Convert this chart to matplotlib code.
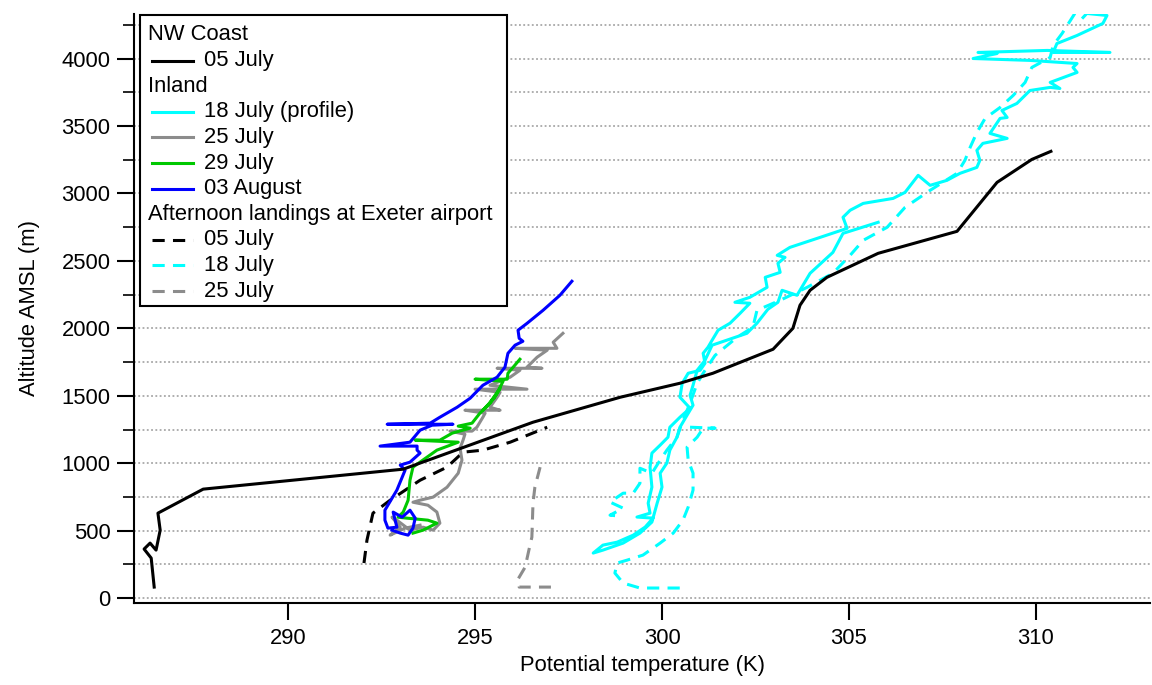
import numpy as np
import matplotlib
matplotlib.use("Agg")
import matplotlib.pyplot as plt
from matplotlib.lines import Line2D
from matplotlib.patches import Rectangle
from matplotlib.ticker import MultipleLocator

plt.rcParams['font.family'] = ['Liberation Sans', 'DejaVu Sans']

# ---------------- data (potential temperature K, altitude m) ----------------
nw_0507_theta = [286.42, 286.34, 286.15, 286.31, 286.47, 286.58, 286.52, 287.73, 293.08,
                 296.55, 298.88, 300.48, 301.36, 302.97, 303.50, 303.69, 303.96, 304.41,
                 305.78, 307.89, 308.96, 309.89, 310.40]
nw_0507_alt = [82, 297, 364, 408, 356, 504, 630, 808, 956,
               1304, 1489, 1593, 1667, 1845, 2000, 2171, 2282, 2378,
               2556, 2719, 3082, 3252, 3312]

in_1807_theta = [305.78, 304.84, 304.57, 303.96, 303.61, 303.21, 303.10, 302.83, 302.54, 302.27,
                 301.34, 301.15, 300.94, 300.83, 300.75, 300.83, 300.67, 300.48, 300.40, 300.21,
                 300.13, 299.95, 300.00, 299.87, 299.73, 299.41, 298.96, 298.42, 298.16,
                 298.42, 298.80, 299.23, 299.55, 299.76, 299.33, 299.68, 299.63, 299.73, 299.68,
                 299.73, 299.95, 300.16, 300.21, 300.48, 300.75, 300.48, 300.54, 300.70, 301.02,
                 301.15, 301.10, 301.23, 301.34, 301.50, 301.82, 302.09, 302.35, 301.95, 302.35,
                 302.81, 302.76, 303.16, 303.10, 303.29, 303.08, 303.42, 304.15, 304.95, 304.84,
                 305.03, 305.38, 306.18, 306.50, 306.85, 307.17, 307.62, 307.97, 308.42, 308.50,
                 308.42, 308.58, 309.23, 308.77, 309.04, 309.23, 309.09, 309.49, 309.84, 310.38,
                 310.64, 310.38, 311.10, 310.99, 311.10, 309.84, 308.32, 308.96, 308.45, 310.30,
                 311.98, 310.46, 310.56, 311.10, 311.79, 311.90, 311.36, 311.26]
in_1807_alt = [2786, 2704, 2563, 2408, 2245, 2282, 2193, 2141, 2038, 1963,
               1875, 1763, 1689, 1578, 1504, 1430, 1356, 1267, 1193, 1097,
               1001, 926, 823, 704, 564, 482, 408, 356, 334,
               393, 415, 467, 527, 593, 601, 630, 704, 823, 971,
               1075, 1134, 1193, 1267, 1341, 1408, 1489, 1593, 1667, 1689,
               1741, 1815, 1860, 1912, 1986, 2038, 2112, 2186, 2193, 2230,
               2304, 2378, 2415, 2482, 2526, 2541, 2600, 2667, 2741, 2823,
               2875, 2926, 2963, 3008, 3134, 3060, 3097, 3149, 3193, 3245,
               3319, 3371, 3408, 3445, 3556, 3563, 3615, 3667, 3763, 3786,
               3778, 3823, 3897, 3934, 3963, 3986, 4000, 4037, 4045, 4060,
               4045, 4045, 4111, 4171, 4260, 4319, 4334, 4304]

in_2507_theta = [297.35, 297.09, 297.19, 296.07, 296.93, 296.66, 296.39, 296.79, 295.59, 296.20,
                 295.94, 295.40, 296.39, 295.00, 295.67, 295.59, 295.40, 295.67, 294.73, 295.27,
                 295.21, 295.05, 294.92, 294.33, 294.73, 294.68, 294.60, 294.65, 294.55, 294.25,
                 293.88, 293.53, 293.34, 293.74, 293.98, 294.06, 293.88, 293.61, 293.26, 292.91,
                 292.78, 293.00, 292.73, 293.13, 293.53]
in_2507_alt = [1963, 1897, 1852, 1852, 1838, 1786, 1712, 1704, 1704, 1689,
               1638, 1578, 1549, 1549, 1526, 1489, 1415, 1393, 1393, 1371,
               1341, 1267, 1238, 1238, 1215, 1171, 1112, 1023, 926, 822,
               749, 726, 711, 689, 638, 556, 504, 526, 504, 578,
               600, 526, 467, 519, 541]

in_2907_theta = [296.20, 296.02, 295.88, 295.86, 295.00, 295.75, 295.59, 295.40, 295.21, 295.51,
                 295.67, 295.35, 295.13, 294.92, 294.55, 294.87, 294.39, 294.06, 293.40, 294.55,
                 293.98, 293.34, 293.26, 293.21, 293.08, 292.94, 293.18, 293.74, 293.98, 293.61,
                 293.34]
in_2907_alt = [1771, 1712, 1667, 1623, 1623, 1608, 1519, 1445, 1393, 1482,
               1556, 1430, 1371, 1297, 1275, 1260, 1223, 1171, 1171, 1156,
               1097, 971, 874, 726, 638, 600, 593, 578, 556, 504,
               482]

in_0308_theta = [297.59, 297.27, 296.82, 296.39, 296.15, 296.18, 296.28, 296.07, 295.88, 295.80,
                 295.59, 295.21, 294.87, 294.52, 294.06, 293.80, 292.65, 294.41, 293.85, 293.53,
                 293.26, 292.46, 293.45, 293.45, 293.53, 293.26, 293.00, 293.13, 292.91, 292.59,
                 292.59, 292.67, 292.91, 292.81, 293.05, 293.26, 293.40, 293.34, 293.21, 293.00,
                 292.78]
in_0308_alt = [2349, 2245, 2134, 2037, 1986, 1926, 1904, 1875, 1815, 1712,
               1638, 1578, 1482, 1415, 1341, 1297, 1289, 1289, 1282, 1245,
               1156, 1127, 1127, 1097, 1075, 1008, 986, 949, 801, 652,
               578, 519, 526, 638, 600, 652, 593, 519, 467, 482,
               504]

ex_0507_theta = [292.03, 292.11, 292.27, 292.73, 293.53, 294.25, 294.68, 295.21, 295.94, 296.93]
ex_0507_alt = [260, 430, 630, 726, 874, 971, 1082, 1097, 1156, 1267]

ex_1807_theta = [311.04, 310.70, 310.46, 310.38, 309.89, 309.71, 309.39, 309.04, 308.64, 308.42,
                 308.24, 308.10, 307.89, 307.17, 306.50, 306.02, 305.38, 305.03, 304.57, 303.88,
                 303.16, 302.54, 302.43, 302.01, 301.42, 301.15, 300.94, 300.75, 300.56, 300.40,
                 300.13, 299.95, 299.73, 299.41, 299.41, 299.23, 298.96, 298.61, 298.96, 298.61,
                 298.88, np.nan,
                 300.75, 301.42, 301.10, 300.94, 300.67, 300.70, 300.83, 300.83, 300.70, 300.56,
                 300.30, 299.95, 299.49, 299.07, 298.80, 298.74, 298.96, 299.41, 300.62]
ex_1807_alt = [4334, 4186, 4097, 4008, 3934, 3823, 3726, 3637, 3556, 3452,
               3341, 3245, 3149, 3023, 2897, 2749, 2652, 2541, 2408, 2304,
               2208, 2134, 2008, 1934, 1800, 1689, 1593, 1445, 1319, 1193,
               1097, 1023, 926, 963, 852, 778, 778, 712, 667, 615,
               608, np.nan,
               1267, 1260, 1260, 1193, 1119, 1023, 926, 801, 675, 578,
               482, 408, 319, 282, 260, 186, 112, 75, 75]

ex_2507_theta = [296.74, 296.60, 296.55, 296.52, 296.44, 296.34, 296.15, 296.18, 297.03]
ex_2507_alt = [971, 822, 704, 452, 356, 230, 141, 82, 82]

x_ticks = [290, 295, 300, 305, 310]
y_ticks = [0, 500, 1000, 1500, 2000, 2500, 3000, 3500, 4000]

legend_rows = [
    ("NW Coast", None, None),
    ("05 July", "black", "-"),
    ("Inland", None, None),
    ("18 July (profile)", "#00FFFF", "-"),
    ("25 July", "#8C8C8C", "-"),
    ("29 July", "#00C800", "-"),
    ("03 August", "#0000FF", "-"),
    ("Afternoon landings at Exeter airport", None, None),
    ("05 July", "black", "--"),
    ("18 July", "#00FFFF", "--"),
    ("25 July", "#8C8C8C", "--"),
]

# ---------------- figure ----------------
W, H = 1152, 685
FS = 15.8
fig = plt.figure(figsize=(W / 100, H / 100), dpi=100)
ax = fig.add_axes([134 / W, 1 - 603 / H, (1150 - 134) / W, (603 - 14) / H])

LW = 2.2
DASH = (4.0, 2.7)
ax.plot(ex_2507_theta, ex_2507_alt, color="#8C8C8C", lw=LW, dashes=DASH)
ax.plot(ex_1807_theta, ex_1807_alt, color="#00FFFF", lw=LW, dashes=DASH)
ax.plot(ex_0507_theta, ex_0507_alt, color="black", lw=LW, dashes=DASH)
ax.plot(in_1807_theta, in_1807_alt, color="#00FFFF", lw=LW)
ax.plot(in_2507_theta, in_2507_alt, color="#8C8C8C", lw=LW)
ax.plot(in_2907_theta, in_2907_alt, color="#00C800", lw=LW)
ax.plot(in_0308_theta, in_0308_alt, color="#0000FF", lw=LW)
ax.plot(nw_0507_theta, nw_0507_alt, color="black", lw=LW)

ax.set_xlim(285.88, 313.05)
ax.set_ylim(-36, 4330)
ax.set_xticks(x_ticks)
ax.set_yticks(y_ticks)
ax.yaxis.set_minor_locator(MultipleLocator(250))
ax.grid(True, which="both", axis="y", color="#999999", lw=1.1, linestyle=(0, (1.2, 1.6)))
ax.set_axisbelow(True)

for s in ("top", "right"):
    ax.spines[s].set_visible(False)
for s in ("left", "bottom"):
    ax.spines[s].set_linewidth(1.5)

ax.tick_params(axis="x", which="major", direction="out", length=12, width=1.5,
               labelsize=FS, pad=6)
ax.tick_params(axis="y", which="major", direction="out", length=12, width=1.5,
               labelsize=FS, pad=5)
ax.tick_params(axis="y", which="minor", direction="out", length=8, width=1.2)

ax.set_xlabel("Potential temperature (K)", fontsize=FS, labelpad=4)
ax.set_ylabel("Altitude AMSL (m)", fontsize=FS)
ax.yaxis.set_label_coords(-0.093, 0.5)

# ---------------- legend (manual, with section headers) ----------------
def fx(px):
    return px / W

def fy(py):
    return 1 - py / H

fig.add_artist(Rectangle((fx(140), fy(306)), fx(507) - fx(140), fy(15) - fy(306),
                         transform=fig.transFigure, fill=True, facecolor="white",
                         edgecolor="black", lw=1.5, zorder=5))
row0, dy = 35, 25.6
for i, (label, color, ls) in enumerate(legend_rows):
    yc = row0 + i * dy
    if color is None:
        fig.text(fx(148), fy(yc), label, fontsize=FS, va="center", ha="left", zorder=6)
    else:
        kw = dict(dashes=DASH) if ls == "--" else {}
        fig.add_artist(Line2D([fx(152), fx(193)], [fy(yc), fy(yc)], transform=fig.transFigure,
                              color=color, lw=LW, zorder=6, **kw))
        fig.text(fx(204), fy(yc), label, fontsize=FS, va="center", ha="left", zorder=6)

fig.savefig("out.png", dpi=100)
